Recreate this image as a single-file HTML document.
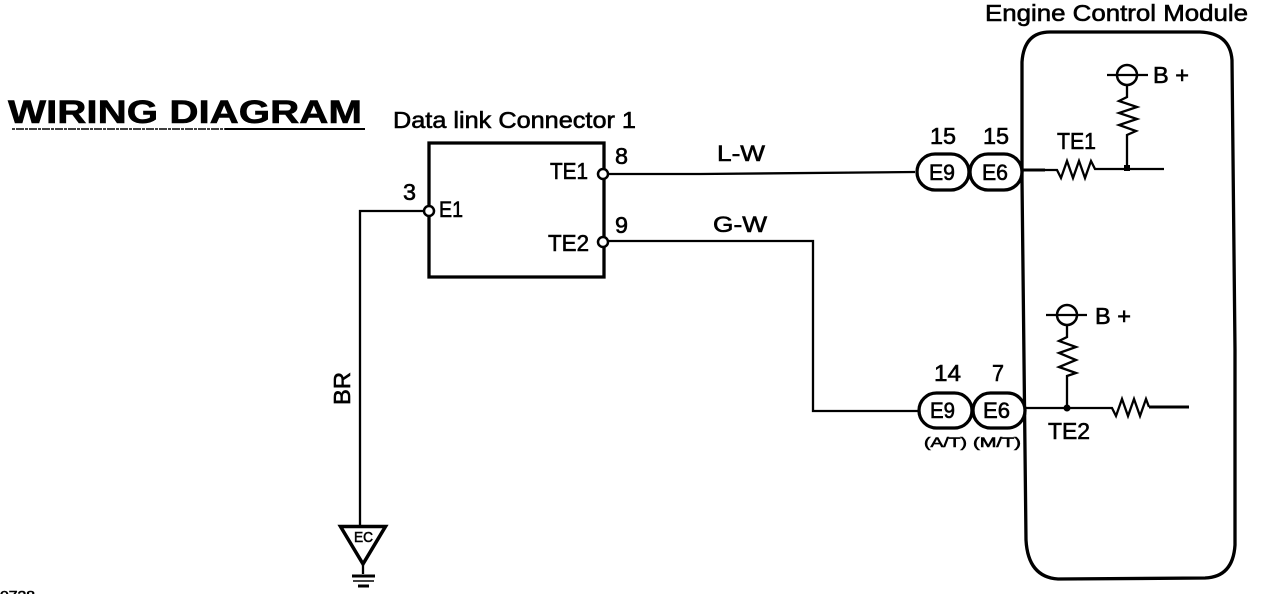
<!DOCTYPE html>
<html><head><meta charset="utf-8"><style>
html,body{margin:0;padding:0;background:#fff;width:1280px;height:594px;overflow:hidden}
svg{display:block}
text{font-family:"Liberation Sans",sans-serif;fill:#000;stroke:#000;stroke-width:.6}
.w{fill:none;stroke:#000;stroke-width:2.300}
.t{fill:none;stroke:#000;stroke-width:3.300}
</style></head><body>
<svg width="1280" height="594" viewBox="0 0 1280 594" xmlns="http://www.w3.org/2000/svg">
<rect width="1280" height="594" fill="#fff"/>
<text x="8" y="123" font-size="32" font-weight="bold" textLength="354" lengthAdjust="spacingAndGlyphs" stroke-width="1">WIRING DIAGRAM</text>
<path d="M12 129H365" stroke="#000" stroke-width="1.500" stroke-dasharray="3 1 8 1"/>
<path d="M225 129H365" stroke="#000" stroke-width="2"/>
<text x="393" y="128" font-size="23" textLength="243" lengthAdjust="spacingAndGlyphs">Data link Connector 1</text>
<text x="985" y="21" font-size="23" textLength="263" lengthAdjust="spacingAndGlyphs">Engine Control Module</text>

<!-- connector box -->
<path class="t" d="M429 143H604V277H429Z"/>
<path class="w" d="M425 211H360V525"/>
<circle cx="429" cy="211" r="5" fill="#fff" stroke="#000" stroke-width="2.500"/>
<circle cx="603" cy="174" r="5" fill="#fff" stroke="#000" stroke-width="2.500"/>
<circle cx="603" cy="242" r="5" fill="#fff" stroke="#000" stroke-width="2.500"/>
<text x="403" y="200" font-size="23" textLength="13" lengthAdjust="spacingAndGlyphs">3</text>
<text x="439" y="217" font-size="22" textLength="24" lengthAdjust="spacingAndGlyphs">E1</text>
<text x="550" y="179" font-size="23" textLength="38" lengthAdjust="spacingAndGlyphs">TE1</text>
<text x="548" y="251" font-size="23" textLength="41" lengthAdjust="spacingAndGlyphs">TE2</text>
<text x="615" y="164" font-size="23" textLength="13" lengthAdjust="spacingAndGlyphs">8</text>
<text x="615" y="233" font-size="23" textLength="13" lengthAdjust="spacingAndGlyphs">9</text>

<!-- wires -->
<path class="w" d="M608 174H700L915 172"/>
<path class="w" d="M608 241H813V411H918"/>
<text x="717" y="161" font-size="22" textLength="48" lengthAdjust="spacingAndGlyphs">L-W</text>
<text x="713" y="232" font-size="22" textLength="54" lengthAdjust="spacingAndGlyphs">G-W</text>

<!-- ground -->
<text transform="translate(350 405) rotate(-90)" font-size="23" textLength="33" lengthAdjust="spacingAndGlyphs">BR</text>
<path d="M340.500 526.500H385.500L363 564Z" fill="none" stroke="#000" stroke-width="3.500"/>
<path class="w" d="M363 564V574"/>
<path d="M352 576H375" stroke="#000" stroke-width="3"/>
<path d="M353 581H374" stroke="#000" stroke-width="1.500"/>
<path d="M358 586H369" stroke="#000" stroke-width="3"/>
<text x="354" y="542" font-size="15" textLength="19" lengthAdjust="spacingAndGlyphs">EC</text>
<text x="0" y="600" font-size="13" textLength="35" lengthAdjust="spacingAndGlyphs">0728</text>

<!-- ECM -->
<path class="t" d="M1022 180V62Q1024 32 1050 32H1200Q1230 33 1232 60L1235 350V545Q1233 577 1205 578L1058 579Q1028 577 1026 540L1022 180Z"/>

<!-- upper connectors -->
<rect x="917" y="154" width="52" height="36" rx="18" fill="#fff" stroke="#000" stroke-width="3.300"/>
<rect x="970" y="154" width="52" height="36" rx="18" fill="#fff" stroke="#000" stroke-width="3.300"/>
<text x="929" y="180" font-size="22" textLength="26" lengthAdjust="spacingAndGlyphs">E9</text>
<text x="982" y="180" font-size="22" textLength="26" lengthAdjust="spacingAndGlyphs">E6</text>
<text x="930" y="144" font-size="23" textLength="26" lengthAdjust="spacingAndGlyphs">15</text>
<text x="983" y="144" font-size="23" textLength="26" lengthAdjust="spacingAndGlyphs">15</text>

<!-- lower connectors -->
<rect x="919" y="393" width="53" height="35" rx="17.500" fill="#fff" stroke="#000" stroke-width="3.300"/>
<rect x="973" y="393" width="52" height="35" rx="17.500" fill="#fff" stroke="#000" stroke-width="3.300"/>
<text x="930" y="418" font-size="22" textLength="25" lengthAdjust="spacingAndGlyphs">E9</text>
<text x="983" y="418" font-size="22" textLength="27" lengthAdjust="spacingAndGlyphs">E6</text>
<text x="934" y="381" font-size="23" textLength="27" lengthAdjust="spacingAndGlyphs">14</text>
<text x="992" y="381" font-size="23" textLength="12" lengthAdjust="spacingAndGlyphs">7</text>
<text x="924" y="447" font-size="14" textLength="43" lengthAdjust="spacingAndGlyphs" stroke-width=".3">(A/T)</text>
<text x="973" y="447" font-size="14" textLength="48" lengthAdjust="spacingAndGlyphs" stroke-width=".3">(M/T)</text>

<!-- upper circuit -->
<path d="M1023 170H1045" stroke="#000" stroke-width="3"/>
<path class="w" d="M1045 170H1057L1061 178L1067 161L1073 178L1079 161L1085 178L1091 161L1095 169H1164"/>
<path class="w" d="M1127 85V97L1119 101L1137 107L1119 113L1137 119L1119 125L1136 131L1127 135V168"/>
<rect x="1124" y="165" width="6" height="6"/>
<circle cx="1127" cy="75" r="10" fill="#fff" stroke="#000" stroke-width="2.500"/>
<path class="w" d="M1107 75H1148"/>
<text x="1153" y="83" font-size="23" textLength="36" lengthAdjust="spacingAndGlyphs">B +</text>
<text x="1057" y="149" font-size="23" textLength="39" lengthAdjust="spacingAndGlyphs">TE1</text>

<!-- lower circuit -->
<path class="w" d="M1025 408H1112L1116 416L1122 399L1128 416L1134 399L1140 416L1146 399L1149 407"/>
<path d="M1149 407H1189" stroke="#000" stroke-width="3"/>
<path class="w" d="M1067 325V337L1059 341L1076 347L1059 353L1076 360L1059 367L1076 373L1067 376V408"/>
<circle cx="1067" cy="408" r="3.500"/>
<circle cx="1067" cy="315" r="10" fill="#fff" stroke="#000" stroke-width="2.500"/>
<path class="w" d="M1046 315H1087"/>
<text x="1095" y="324" font-size="23" textLength="36" lengthAdjust="spacingAndGlyphs">B +</text>
<text x="1048" y="439" font-size="23" textLength="42" lengthAdjust="spacingAndGlyphs">TE2</text>
</svg>
</body></html>
